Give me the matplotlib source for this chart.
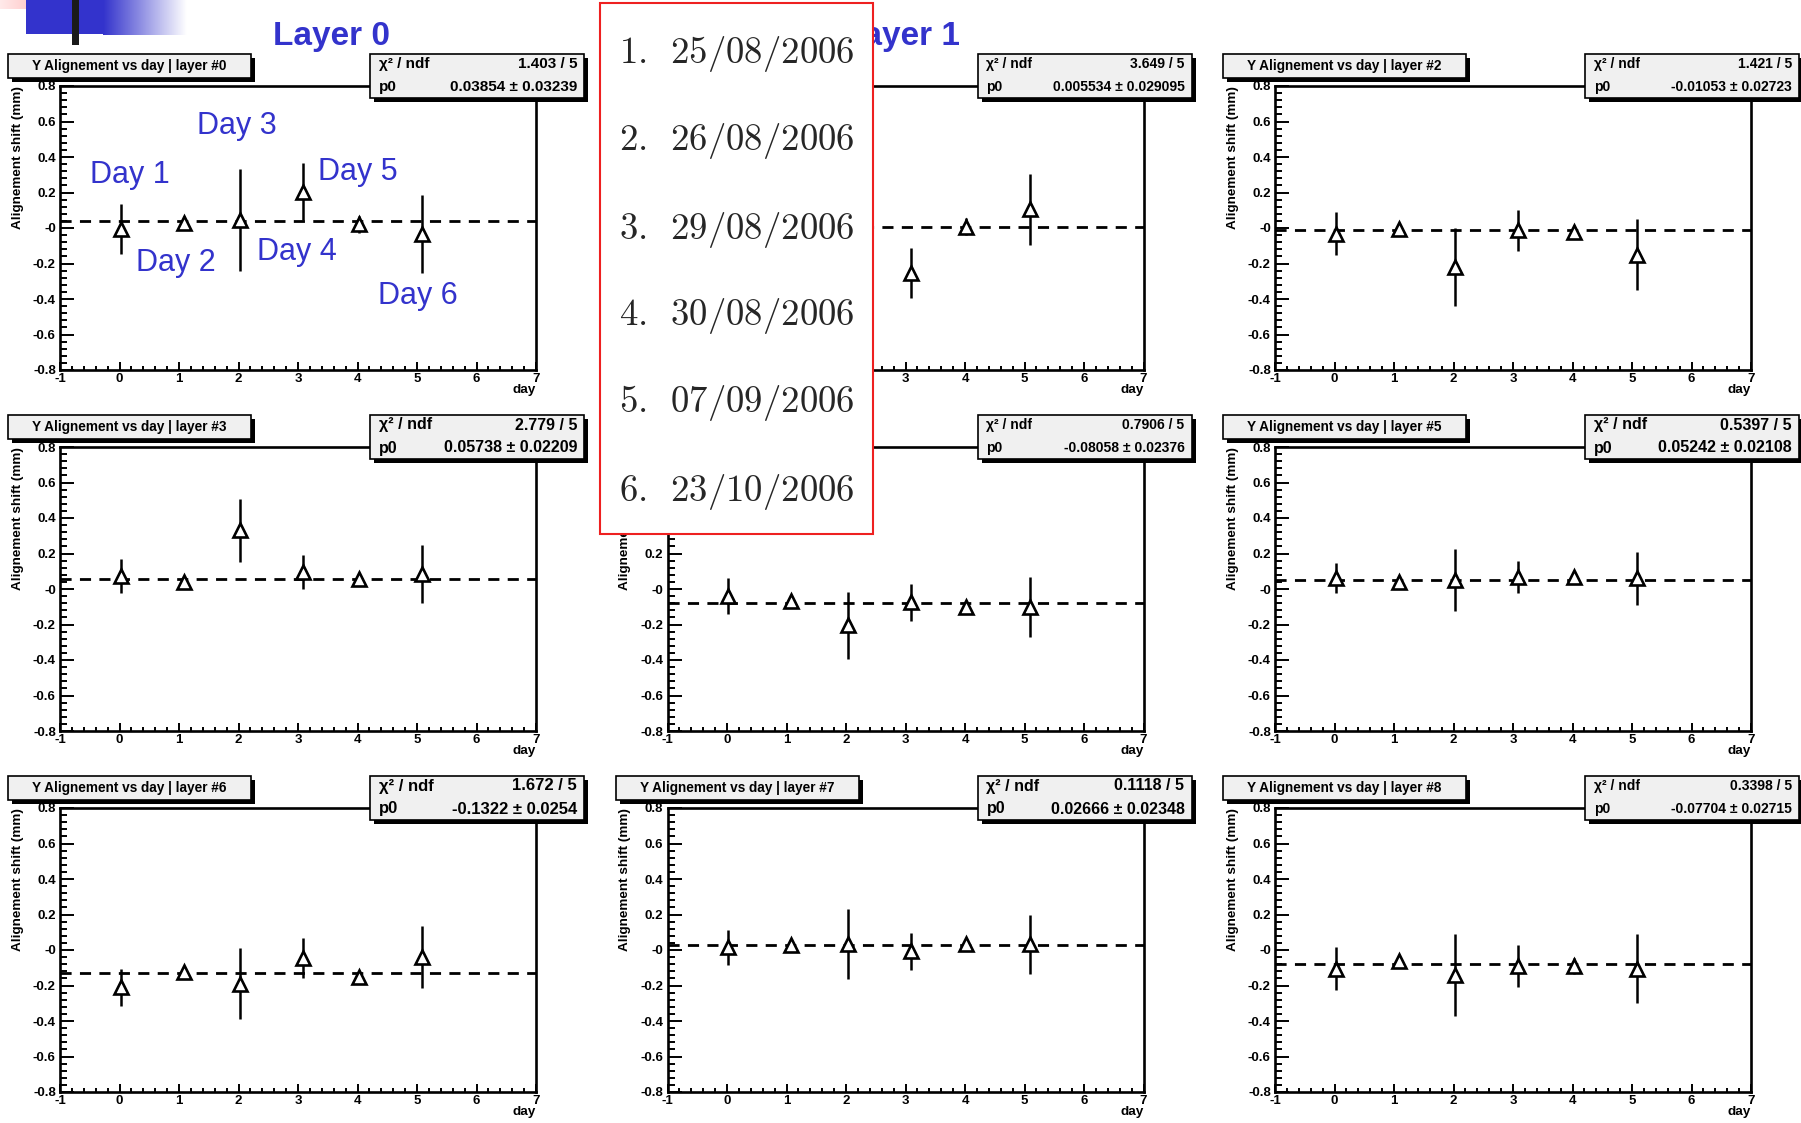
import matplotlib
matplotlib.use("Agg")
import numpy as np
import matplotlib.pyplot as plt
from matplotlib.patches import Rectangle
from matplotlib.ticker import MultipleLocator

plt.rcParams['font.family'] = ['Liberation Sans', 'DejaVu Sans']

W, H = 1801, 1123

# measured days (x) of the six alignment runs
days = [0.02, 1.08, 2.03, 3.09, 4.02, 5.09]

# Y alignment shift per layer (mm) and its error
shift_l0 = [-0.005, 0.03, 0.045, 0.205, 0.02, -0.035]
err_l0 = [0.14, 0.035, 0.29, 0.16, 0.05, 0.22]
shift_l1 = [0.02, 0.01, -0.03, -0.255, 0.008, 0.105]
err_l1 = [0.12, 0.03, 0.2, 0.14, 0.05, 0.2]
shift_l2 = [-0.032, -0.004, -0.22, -0.012, -0.023, -0.15]
err_l2 = [0.12, 0.02, 0.22, 0.115, 0.04, 0.2]
shift_l3 = [0.075, 0.041, 0.33, 0.095, 0.056, 0.085]
err_l3 = [0.095, 0.02, 0.177, 0.095, 0.03, 0.165]
shift_l4 = [-0.04, -0.069, -0.205, -0.075, -0.099, -0.1]
err_l4 = [0.1, 0.02, 0.19, 0.105, 0.03, 0.17]
shift_l5 = [0.06, 0.038, 0.05, 0.065, 0.07, 0.06]
err_l5 = [0.085, 0.015, 0.175, 0.09, 0.015, 0.15]
shift_l6 = [-0.21, -0.124, -0.19, -0.045, -0.152, -0.04]
err_l6 = [0.105, 0.02, 0.2, 0.11, 0.03, 0.175]
shift_l7 = [0.015, 0.028, 0.033, -0.008, 0.035, 0.032]
err_l7 = [0.1, 0.02, 0.197, 0.105, 0.03, 0.165]
shift_l8 = [-0.105, -0.062, -0.14, -0.09, -0.089, -0.105]
err_l8 = [0.12, 0.02, 0.23, 0.12, 0.045, 0.195]

shifts = [shift_l0, shift_l1, shift_l2, shift_l3, shift_l4, shift_l5, shift_l6, shift_l7, shift_l8]
errors = [err_l0, err_l1, err_l2, err_l3, err_l4, err_l5, err_l6, err_l7, err_l8]

# constant fit (pol0) results
chi2 = [1.403, 3.649, 1.421, 2.779, 0.7906, 0.5397, 1.672, 0.1118, 0.3398]
ndf = 5
p0_fit = [0.03854, 0.005534, -0.01053, 0.05738, -0.08058, 0.05242, -0.1322, 0.02666, -0.07704]
p0_err = [0.03239, 0.029095, 0.02723, 0.02209, 0.02376, 0.02108, 0.0254, 0.02348, 0.02715]
stat_fs = [11, 10, 10, 11.5, 10, 11.5, 12, 11.5, 10]

ytick_vals = [-0.8, -0.6, -0.4, -0.2, 0.0, 0.2, 0.4, 0.6, 0.8]
ytick_text = ["-0.8", "-0.6", "-0.4", "-0.2", "-0", "0.2", "0.4", "0.6", "0.8"]
xtick_vals = [-1, 0, 1, 2, 3, 4, 5, 6, 7]

dates = ["25/08/2006", "26/08/2006", "29/08/2006", "30/08/2006", "07/09/2006", "23/10/2006"]
day_names = ["Day 1", "Day 2", "Day 3", "Day 4", "Day 5", "Day 6"]
day_pos = [(130, 175), (176, 263), (237, 126), (297, 252), (358, 172), (418, 296)]

BLUE = '#3333cc'
COL_DX, ROW_DY = 607.5, 361
DATE_BOX = (600, 3, 873, 534)


def fx(x):
    return x / W


def fy(y):
    return 1 - y / H


def frect(x0, y0, x1, y1):
    return [fx(x0), fy(y1), (x1 - x0) / W, (y1 - y0) / H]


def add_rect(fig, x0, y0, x1, y1, z, **kw):
    r = Rectangle((fx(x0), fy(y1)), (x1 - x0) / W, (y1 - y0) / H,
                  transform=fig.transFigure, zorder=z, **kw)
    fig.add_artist(r)
    return r


def under_date_box(x0, y0, x1, y1):
    bx0, by0, bx1, by1 = DATE_BOX
    return x0 >= bx0 and x1 <= bx1 and y0 >= by0 and y1 <= by1


def root_box(fig, x0, y0, x1, y1, z=5):
    # grey pave with black drop shadow, ROOT style
    add_rect(fig, x0 + 4, y0 + 4, x1 + 4, y1 + 4, z, facecolor='black', edgecolor='none')
    add_rect(fig, x0, y0, x1, y1, z + 0.1, facecolor='#f0f0f0', edgecolor='black', lw=1.2)


def draw_layer(fig, n):
    row, col = n // 3, n % 3
    ox, oy = col * COL_DX, row * ROW_DY
    ax = fig.add_axes(frect(ox + 60, oy + 86, ox + 536, oy + 370))
    ax.set_xlim(-1, 7)
    ax.set_ylim(-0.8, 0.8)

    ax.axhline(p0_fit[n], color='black', lw=2.0, dashes=(4, 3), zorder=2)
    ax.errorbar(days, shifts[n], yerr=errors[n], fmt='none', ecolor='black',
                elinewidth=1.8, capsize=0, zorder=3)
    ax.plot(days, shifts[n], linestyle='none', marker='^', ms=9.5, mew=1.9,
            mec='black', mfc='white', zorder=4)

    for s in ax.spines.values():
        s.set_linewidth(1.9)
    ax.set_yticks(ytick_vals)
    ax.set_yticklabels(ytick_text, fontsize=9.5, fontweight='bold')
    ax.set_xticks(xtick_vals)
    ax.set_xticklabels([str(v) for v in xtick_vals], fontsize=9.5, fontweight='bold')
    ax.yaxis.set_minor_locator(MultipleLocator(0.04))
    ax.xaxis.set_minor_locator(MultipleLocator(0.2))
    ax.tick_params(axis='y', which='major', direction='in', length=10, width=1.4, pad=3)
    ax.tick_params(axis='y', which='minor', direction='in', length=5, width=1.4)
    ax.tick_params(axis='x', which='major', direction='in', length=6, width=1.4, pad=2)
    ax.tick_params(axis='x', which='minor', direction='in', length=3, width=1.4)

    ax.set_ylabel('Alignement shift (mm)', fontsize=9.7, fontweight='bold', loc='top')
    ax.yaxis.set_label_coords(-0.076, 1.0)
    ax.set_xlabel('day', fontsize=9.7, fontweight='bold', loc='right')
    ax.xaxis.set_label_coords(1.0, -0.05)

    # histogram title pave (skipped where the date list covers it completely)
    if not under_date_box(ox + 8, oy + 54, ox + 255, oy + 82):
        root_box(fig, ox + 8, oy + 54, ox + 251, oy + 78)
        fig.text(fx(ox + 129.5), fy(oy + 66), f'Y Alignement vs day | layer #{n}',
                 ha='center', va='center', fontsize=9.8, fontweight='bold', zorder=6)

    # fit statistics pave
    root_box(fig, ox + 370, oy + 54, ox + 584, oy + 98)
    fs = stat_fs[n]
    fig.text(fx(ox + 379), fy(oy + 64), 'χ² / ndf', ha='left', va='center',
             fontsize=fs, fontweight='bold', zorder=6)
    fig.text(fx(ox + 577), fy(oy + 64), f'{chi2[n]} / {ndf}', ha='right', va='center',
             fontsize=fs, fontweight='bold', zorder=6)
    fig.text(fx(ox + 379), fy(oy + 87), 'p0', ha='left', va='center',
             fontsize=fs, fontweight='bold', zorder=6)
    fig.text(fx(ox + 577), fy(oy + 87), f'{p0_fit[n]} ± {p0_err[n]}', ha='right',
             va='center', fontsize=fs, fontweight='bold', zorder=6)
    return ax


fig = plt.figure(figsize=(W / 100, H / 100), dpi=100)
fig.patch.set_facecolor('white')

# slide header decoration
hdr = fig.add_axes(frect(0, 0, 57, 9))
hdr.imshow(np.linspace(0, 1, 64)[None, :], cmap=matplotlib.colors.LinearSegmentedColormap.from_list(
    'pk', ['#ffeaea', '#ffb0b0']), aspect='auto')
hdr.axis('off')
add_rect(fig, 26, 0, 104, 34, 1, facecolor=BLUE, edgecolor='none')
grad = fig.add_axes(frect(103, 0, 187, 35))
grad.imshow(np.linspace(0, 1, 128)[None, :], cmap=matplotlib.colors.LinearSegmentedColormap.from_list(
    'bl', [BLUE, '#ffffff']), aspect='auto')
grad.axis('off')
add_rect(fig, 72, 0, 79, 45, 2, facecolor='#1a1a1a', edgecolor='none')

axes = [draw_layer(fig, n) for n in range(9)]

fig.text(fx(331), fy(36), 'Layer 0', ha='center', va='center', fontsize=24,
         fontweight='bold', color=BLUE, zorder=7)
# second layer heading runs partly under the date list
clip = Rectangle((fx(DATE_BOX[2]), 0), 1, 1, transform=fig.transFigure)
lt = fig.text(fx(901), fy(36), 'Layer 1', ha='center', va='center', fontsize=24,
              fontweight='bold', color=BLUE, zorder=7)
lt.set_clip_path(clip)

for name, (px, py) in zip(day_names, day_pos):
    fig.text(fx(px), fy(py), name, ha='center', va='center', fontsize=22,
             color=BLUE, zorder=7)

# list of run dates on top
add_rect(fig, *DATE_BOX, 10, facecolor='white', edgecolor='#ee2020', lw=1.5)
row_y = [54, 141, 230, 316, 403, 492]
for i, (d, ry) in enumerate(zip(dates, row_y)):
    fig.text(fx(619), fy(ry), rf'$\mathrm{{{i + 1}.\enspace{d}}}$', ha='left',
             va='center', fontsize=26.5, math_fontfamily='cm', color='#262626', zorder=11)

# axis texts lying wholly under the date list are never seen: switch them off
fig.canvas.draw()
renderer = fig.canvas.get_renderer()
for ax in axes:
    for t in ax.get_xticklabels() + ax.get_yticklabels() + [ax.yaxis.label]:
        bb = t.get_window_extent(renderer)
        if under_date_box(bb.x0, H - bb.y1, bb.x1, H - bb.y0):
            t.set_visible(False)

fig.savefig('out.png', dpi=100)
